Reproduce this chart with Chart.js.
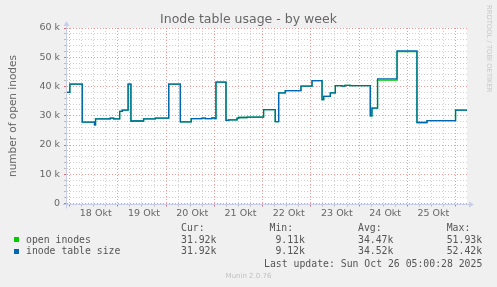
<!DOCTYPE html>
<html><head><meta charset="utf-8">
<script src="https://cdn.jsdelivr.net/npm/chart.js@4/dist/chart.umd.min.js"></script>
<style>
html,body{margin:0;padding:0;background:#F0F0F0;}
#wrap{position:relative;width:497px;height:287px;overflow:hidden;background:#F0F0F0;}
canvas{position:absolute;left:0;top:0;}
.t{position:absolute;white-space:pre;color:#666;font-family:"DejaVu Sans";}
.m{position:absolute;white-space:pre;color:#555;font-family:"DejaVu Sans Mono";font-size:9.8px;line-height:12px;}
.sq{position:absolute;width:5px;height:5px;}
</style></head>
<body><div id="wrap"><canvas id="c" width="497" height="287"></canvas>
<div class="t" style="left:0;width:497px;text-align:center;top:11px;font-size:12.5px;line-height:15px;">Inode table usage - by week</div>
<div class="t" style="left:-88px;top:109px;width:200px;height:14px;line-height:14px;text-align:center;font-size:10.5px;transform:rotate(-90deg);">number of open inodes</div>
<div class="t" style="left:493px;top:5px;font-size:6.8px;line-height:8px;color:#c8c8c8;transform:rotate(90deg);transform-origin:0 0;">RRDTOOL / TOBI OETIKER</div>
<div class="t" style="left:0;width:497px;text-align:center;top:271px;font-size:7px;line-height:10px;color:#c0c0c0;">Munin 2.0.76</div>
<div id="legend"></div>
</div>
<script>
// ---- data (hours since 18 Okt 00:00, values) ----
const dayLabels = ['18 Okt','19 Okt','20 Okt','21 Okt','22 Okt','23 Okt','24 Okt','25 Okt'];
const hours = [-1.3,0.1,6.3,12.4,12.9,20.2,21.9,24.9,26.2,29.1,30.5,36.8,42.6,49.3,55.1,60.5,65.9,67.5,70.8,72.0,72.8,77.8,79.1,83.3,84.1,88.3,96.5,102.3,104.0,107.3,115.1,120.6,125.6,126.4,129.7,132.2,135.5,137.0,139.7,149.6,150.4,153.2,162.9,172.8,177.8,192.0,197.7];
const inodeTableSize = [38000,40800,27800,26900,28900,29200,28900,31500,31900,40800,28200,28900,29200,40800,27900,29000,29200,29000,29300,29000,41500,28400,28600,29200,29400,29500,32100,28000,37800,38600,40100,42000,35500,36600,37800,40300,40100,40400,40300,30000,32600,42600,52200,27700,28300,31900,31900];
const openInodes = [38000,40800,27800,26900,28900,29200,28900,31500,31900,40800,28200,28900,29200,40800,27900,29000,29200,29000,29300,29000,41500,28400,28600,29200,29400,29500,32100,28000,37800,38600,40100,42000,35500,36600,37800,40300,40100,40400,40300,30000,32600,42200,51900,27700,28300,31900,31900];
const seriesNames = ['open inodes','inode table size'];
const seriesColors = ['#00CC00','#0066B3'];
const statHeads = ['Cur:','Min:','Avg:','Max:'];
const stats = [['31.92k',' 9.11k','34.47k','51.93k'],['31.92k',' 9.12k','34.52k','52.42k']];
const lastUpdate = 'Last update: Sun Oct 26 05:00:28 2025';

// ---- legend (HTML text) ----
(function(){
  const L = document.getElementById('legend');
  const colX = [181,269.5,358,446.7];
  const rowTop = [221.7,233.7,245.3];
  function add(cls, x, y, txt, extra){ const d=document.createElement('div'); d.className=cls; d.style.left=x+'px'; d.style.top=y+'px'; if(extra) Object.assign(d.style, extra); d.textContent=txt; L.appendChild(d); return d; }
  statHeads.forEach((h,i)=>add('m',colX[i],rowTop[0],h));
  seriesNames.forEach((n,r)=>{
    const sq=document.createElement('div'); sq.className='sq'; sq.style.left='14px'; sq.style.top=(rowTop[r+1]+3.6)+'px'; sq.style.background=seriesColors[r]; L.appendChild(sq);
    add('m',26,rowTop[r+1],n);
    stats[r].forEach((v,i)=>add('m',colX[i],rowTop[r+1],v));
  });
  add('m',0,257.7,lastUpdate,{left:'auto',right:'14.7px'});
})();

const pts = (xs, ys) => xs.map((x,i)=>({x:x,y:ys[i]}));
const RED='rgba(228,70,70,0.55)', GRAY='rgba(150,150,150,0.45)', AXIS='#C8CEEA';

const decor = {
  id:'decor',
  beforeDraw(chart){ const {ctx, chartArea:a}=chart; ctx.save(); ctx.fillStyle='#fff'; ctx.fillRect(a.left,a.top,a.right-a.left,a.bottom-a.top); ctx.restore(); },
  afterDatasetsDraw(chart){
    const {ctx, chartArea:a}=chart; ctx.save();
    ctx.strokeStyle=AXIS; ctx.fillStyle=AXIS; ctx.lineWidth=1;
    const x0=Math.round(a.left)-0.5, y0=Math.round(a.bottom)+0.5;
    ctx.beginPath(); ctx.moveTo(x0, y0+4); ctx.lineTo(x0, a.top-3); ctx.stroke();
    ctx.beginPath(); ctx.moveTo(x0-4, y0); ctx.lineTo(a.right+2, y0); ctx.stroke();
    ctx.beginPath(); ctx.moveTo(x0-3, a.top-2); ctx.lineTo(x0+3, a.top-2); ctx.lineTo(x0, a.top-7); ctx.closePath(); ctx.fill();
    ctx.beginPath(); ctx.moveTo(a.right+2, y0-3); ctx.lineTo(a.right+2, y0+3); ctx.lineTo(a.right+7, y0); ctx.closePath(); ctx.fill();
    ctx.restore();
  }
};

new Chart(document.getElementById('c'), {
  type:'line',
  data:{datasets:[
    {label:seriesNames[1], data:pts(hours,inodeTableSize), borderColor:seriesColors[1], borderWidth:1.3, pointRadius:0, stepped:true, fill:false, order:1},
    {label:seriesNames[0], data:pts(hours,openInodes), borderColor:seriesColors[0], borderWidth:1.3, pointRadius:0, stepped:true, fill:false, order:2}
  ]},
  options:{
    responsive:false, animation:false, events:[],
    layout:{padding:{top:28,right:30,left:0,bottom:0}},
    plugins:{legend:{display:false}, title:{display:false}, tooltip:{enabled:false}},
    scales:{
      x:{type:'linear', min:-1.3, max:197.7,
        afterBuildTicks(s){ const t=[]; for(let h=0;h<=192;h+=6) t.push({value:h}); s.ticks=t; },
        afterFit(s){ s.height=83.5; },
        ticks:{autoSkip:false, maxRotation:0, minRotation:0, padding:1, labelOffset:2, color:'#666', font:{family:'DejaVu Sans', size:9.5},
          callback:(v)=> (v%24===12 ? dayLabels[(v-12)/24] : '')},
        grid:{color:(c)=> (c.tick && c.tick.value%24===0 ? RED : GRAY), tickColor:(c)=> (c.tick && c.tick.value%24===0 ? 'rgba(228,70,70,0.8)' : 'rgba(150,150,150,0.6)'), tickLength:3, lineWidth:1},
        border:{display:false, dash:[1,2]}
      },
      y:{type:'linear', min:0, max:60000,
        afterBuildTicks(s){ const t=[]; for(let v=0;v<=60000;v+=2000) t.push({value:v}); s.ticks=t; },
        afterFit(s){ s.width=67; },
        ticks:{autoSkip:false, padding:4, color:'#666', font:{family:'DejaVu Sans', size:9.5},
          callback:(v)=> (v%10000===0 ? (v===0?'0':(v/1000)+' k') : '')},
        grid:{color:(c)=> (c.tick && c.tick.value%10000===0 ? RED : GRAY), tickColor:(c)=> (c.tick && c.tick.value%10000===0 ? 'rgba(228,70,70,0.8)' : 'rgba(150,150,150,0.6)'), tickLength:3, lineWidth:1},
        border:{display:false, dash:[1,2]}
      }
    }
  },
  plugins:[decor]
});
</script>
</body></html>
